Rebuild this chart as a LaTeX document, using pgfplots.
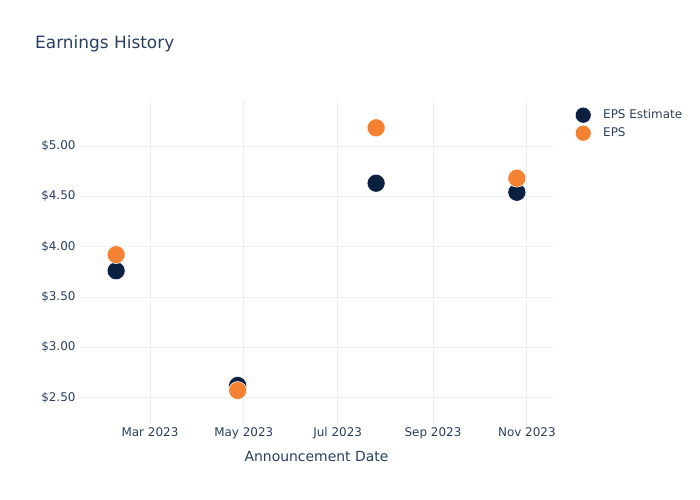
\documentclass[border=0pt]{standalone}
\usepackage{pgfplots}
\pgfplotsset{compat=1.18}
\usepackage{fontspec}
\setmainfont{DejaVu Sans}
\definecolor{txt}{HTML}{2A3F5F}
\definecolor{gridc}{HTML}{EBF0F8}
\definecolor{navy}{HTML}{0B1F41}
\definecolor{orng}{HTML}{F58233}
\begin{document}
\begin{tikzpicture}[x=1bp,y=1bp]
\path (0,0) rectangle (700,500);
\node[anchor=west,inner sep=0pt,text=txt,font=\fontsize{17}{20}\selectfont] at (35,456) {Earnings History};
\begin{axis}[
  at={(80bp,75bp)}, anchor=south west,
  scale only axis, width=473bp, height=325bp,
  xmin=13.5, xmax=321, ymin=2.227, ymax=5.457,
  axis line style={draw=none},
  major tick length=0pt,
  grid=major, grid style={gridc, line width=0.8pt},
  xtick={59,120,181,243,304},
  xticklabels={Mar 2023,May 2023,Jul 2023,Sep 2023,Nov 2023},
  ytick={2.5,3,3.5,4,4.5,5},
  yticklabels={\$2.50,\$3.00,\$3.50,\$4.00,\$4.50,\$5.00},
  /pgf/number format/assume math mode=true,
  ticklabel style={text=txt, font=\fontsize{12}{14}\selectfont},
  xticklabel style={yshift=1bp},
  yticklabel style={xshift=-1bp},
  xlabel={Announcement Date},
  xlabel style={text=txt, font=\fontsize{14}{16}\selectfont, yshift=-5bp},
  legend image code/.code={\draw[#1, mark size=8bp] plot coordinates {(8bp,0)}; \path[draw=none,fill=none] (0,-8bp) rectangle (26bp,8bp);},
  legend style={at={(1,1)}, anchor=north west, xshift=22bp, yshift=-7bp, draw=none, fill=none, inner sep=0pt,
    font=\fontsize{12}{14}\selectfont, text=txt, row sep=2bp},
  legend cell align=left,
  clip=false,
]
\addplot[only marks, mark=*, mark size=9bp, color=navy, mark options={draw=white, line width=0.5pt}]
  coordinates {(37,3.76) (116,2.62) (206,4.63) (297.5,4.54)};
\addlegendentry{EPS Estimate}
\addplot[only marks, mark=*, mark size=9bp, color=orng, mark options={draw=white, line width=0.5pt}]
  coordinates {(37,3.92) (116,2.57) (206,5.18) (297.5,4.68)};
\addlegendentry{EPS}
\end{axis}
\end{tikzpicture}
\end{document}
